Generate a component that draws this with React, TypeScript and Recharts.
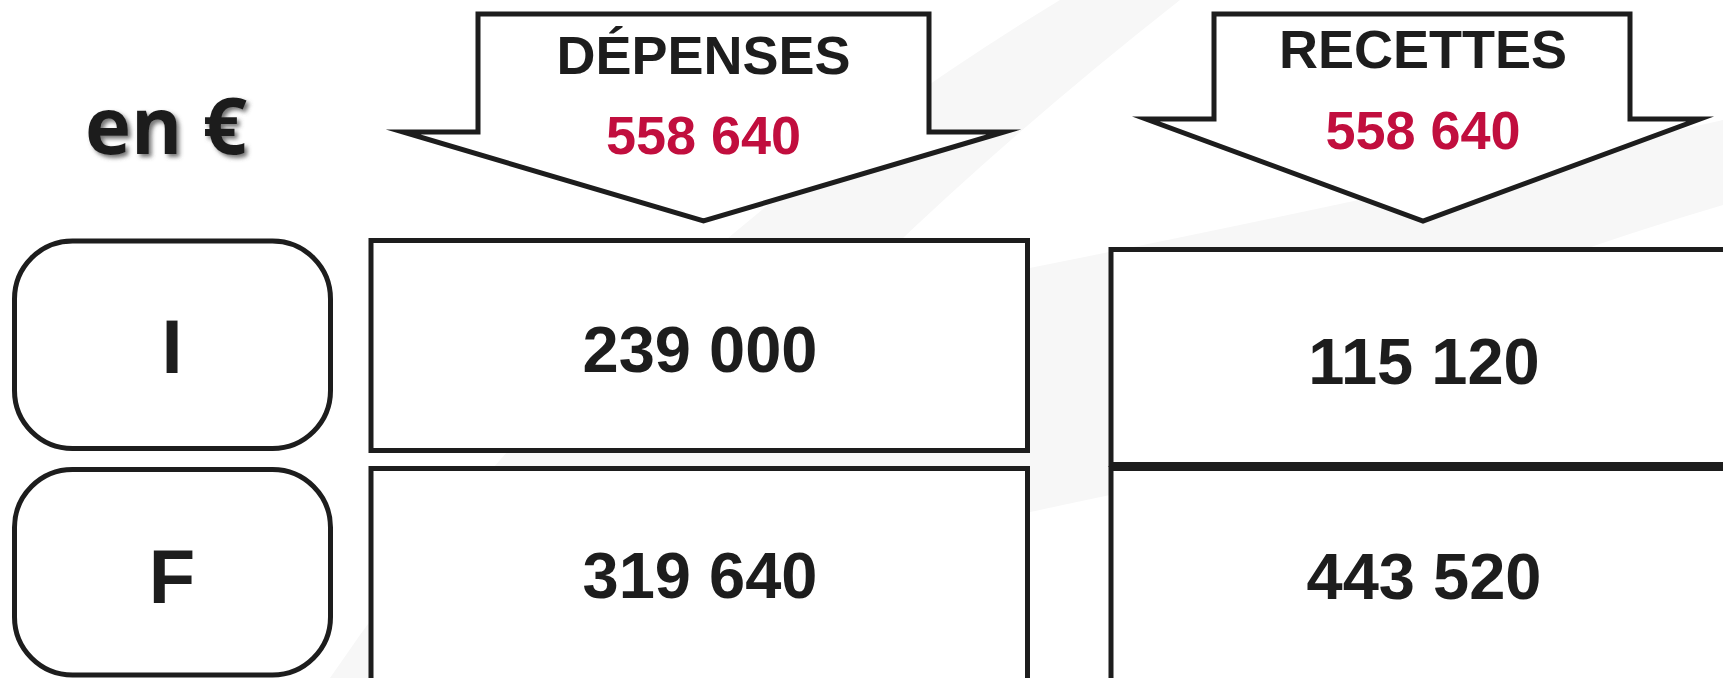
import { ReferenceArea, Scatter, ScatterChart, XAxis, YAxis } from "recharts";

// values
const unitLabel = "en €";
const rowLabels = ["I", "F"];
const columnTitles = ["DÉPENSES", "RECETTES"];
const columnTotals = [558640, 558640];
const depenses = [239000, 319640];
const recettes = [115120, 443520];

document.body.style.margin = "0";

const W = 1723;
const H = 678;
const INK = "#1d1d1d";
const RED = "#c10e3e";
const SANS = "'Liberation Sans', Arial, sans-serif";

// layout (axes are 1:1 with pixels)
const labelCol = { x1: 14.5, x2: 330.5, cx: 172, rows: [[241, 448.5], [469.5, 675]], base: [373, 603] };
const cols = [
  {
    x1: 371, x2: 1027.5, cx: 700,
    rows: [[240.5, 450.5], [468.5, 705]],
    base: [372, 598],
    arrow: { left: 403, right: 1004, shaftL: 478, shaftR: 929, top: 14, wing: 132, tip: 221 },
    titleBase: 74, totalBase: 154,
  },
  {
    x1: 1111, x2: 1760, cx: 1424,
    rows: [[249.5, 464.5], [468.5, 705]],
    base: [384, 599],
    arrow: { left: 1146, right: 1700, shaftL: 1214, shaftR: 1630, top: 14, wing: 119, tip: 221 },
    titleBase: 68, totalBase: 149,
  },
];

const fmt = (n: number) => String(n).replace(/\B(?=(\d{3})+(?!\d))/g, " ");
const colValues = [depenses, recettes];

const valuePoints = cols.flatMap((c, ci) =>
  rowLabels.map((_, ri) => ({ x: c.cx, y: c.base[ri], text: fmt(colValues[ci][ri]) }))
);
const rowPoints = rowLabels.map((r, ri) => ({ x: labelCol.cx, y: labelCol.base[ri], text: r }));
const titlePoints = cols.map((c, ci) => ({ x: (c.arrow.left + c.arrow.right) / 2, y: c.titleBase, text: columnTitles[ci] }));
const totalPoints = cols.map((c, ci) => ({ x: (c.arrow.left + c.arrow.right) / 2, y: c.totalBase, text: fmt(columnTotals[ci]) }));
const unitPoints = [{ x: 166, y: 154, text: unitLabel }];

const norm = (p: any) => ({
  x: Math.min(p.x, p.x + p.width),
  y: Math.min(p.y, p.y + p.height),
  w: Math.abs(p.width),
  h: Math.abs(p.height),
});

const boxShape = (radius: number) => (p: any) => {
  const r = norm(p);
  return <rect x={r.x} y={r.y} width={r.w} height={r.h} rx={radius} ry={radius} fill="#fff" stroke={INK} strokeWidth={5} />;
};

const arrowShape = (a: (typeof cols)[number]["arrow"]) => (p: any) => {
  const r = norm(p);
  const sx = r.w / (a.right - a.left);
  const sy = r.h / (a.tip - a.top);
  const X = (v: number) => r.x + (v - a.left) * sx;
  const Y = (v: number) => r.y + (v - a.top) * sy;
  const pts = [
    [a.shaftL, a.top], [a.shaftR, a.top], [a.shaftR, a.wing], [a.right, a.wing],
    [(a.left + a.right) / 2, a.tip], [a.left, a.wing], [a.shaftL, a.wing],
  ];
  return (
    <polygon
      points={pts.map(([x, y]) => `${X(x)},${Y(y)}`).join(" ")}
      fill="#fff"
      stroke={INK}
      strokeWidth={5}
      strokeLinejoin="miter"
      strokeMiterlimit={10}
    />
  );
};

const backdrop = (p: any) => {
  const r = norm(p);
  return (
    <g transform={`translate(${r.x},${r.y})`}>
      <path d="M 1060 0 Q 600 280 330 678 L 520 678 Q 760 330 1180 0 Z" fill="#f7f7f7" />
      <path d="M 700 330 Q 1100 260 1723 120 L 1723 205 Q 1300 330 1110 495 Q 800 560 600 620 Z" fill="#f7f7f7" />
    </g>
  );
};

const textShape = (size: number, color: string) => (p: any) => (
  <text x={p.cx} y={p.cy} textAnchor="middle" fontFamily={SANS} fontWeight={700} fontSize={size} fill={color}>
    {p.payload.text}
  </text>
);

const unitShape = (p: any) => (
  <g>
    <defs>
      <filter id="unitShadow" x="-20%" y="-20%" width="140%" height="140%">
        <feDropShadow dx={3} dy={3} stdDeviation={2} floodColor="#555" floodOpacity={0.8} />
      </filter>
    </defs>
    <text
      x={p.cx}
      y={p.cy}
      textAnchor="middle"
      fontFamily="'Open Sans', sans-serif"
      fontWeight={700}
      fontSize={78}
      fill={INK}
      filter="url(#unitShadow)"
    >
      {p.payload.text}
    </text>
  </g>
);

export default function App() {
  return (
    <div style={{ width: W, height: H, background: "#fff", overflow: "hidden" }}>
      <ScatterChart width={W} height={H} margin={{ top: 0, right: 0, bottom: 0, left: 0 }}>
        <XAxis type="number" dataKey="x" domain={[0, W]} allowDataOverflow hide />
        <YAxis type="number" dataKey="y" domain={[0, H]} reversed allowDataOverflow hide />
        <ReferenceArea x1={0} x2={W} y1={0} y2={H} ifOverflow="visible" shape={backdrop} />
        {labelCol.rows.map(([y1, y2], i) => (
          <ReferenceArea key={`l${i}`} x1={labelCol.x1} x2={labelCol.x2} y1={y1} y2={y2} ifOverflow="visible" shape={boxShape(58)} />
        ))}
        {cols.map((c, ci) =>
          c.rows.map(([y1, y2], ri) => (
            <ReferenceArea key={`b${ci}${ri}`} x1={c.x1} x2={c.x2} y1={y1} y2={y2} ifOverflow="visible" shape={boxShape(0)} />
          ))
        )}
        {cols.map((c, ci) => (
          <ReferenceArea
            key={`a${ci}`}
            x1={c.arrow.left}
            x2={c.arrow.right}
            y1={c.arrow.top}
            y2={c.arrow.tip}
            ifOverflow="visible"
            shape={arrowShape(c.arrow)}
          />
        ))}
        <Scatter data={unitPoints} shape={unitShape} isAnimationActive={false} />
        <Scatter data={titlePoints} shape={textShape(54, INK)} isAnimationActive={false} />
        <Scatter data={totalPoints} shape={textShape(54, RED)} isAnimationActive={false} />
        <Scatter data={rowPoints} shape={textShape(76, INK)} isAnimationActive={false} />
        <Scatter data={valuePoints} shape={textShape(65, INK)} isAnimationActive={false} />
      </ScatterChart>
    </div>
  );
}
